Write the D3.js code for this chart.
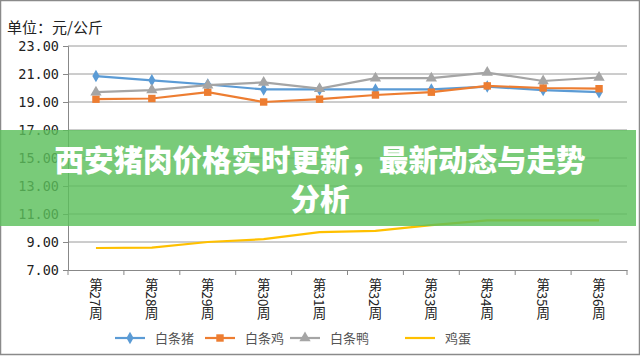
<!DOCTYPE html>
<html><head><meta charset="utf-8">
<script src="https://cdn.jsdelivr.net/npm/d3@7/dist/d3.min.js"></script>
<style>html,body{margin:0;padding:0;background:#fff;}svg{display:block;}</style>
</head><body><svg id="c" width="640" height="356"></svg>
<script>
const weeks = ["第27周","第28周","第29周","第30周","第31周","第32周","第33周","第34周","第35周","第36周"];
const pork  = [20.85,20.55,20.25,19.9,19.9,19.9,19.9,20.1,19.85,19.7];
const chicken = [19.2,19.25,19.7,19.0,19.2,19.5,19.7,20.15,20.0,19.95];
const duck = [19.7,19.85,20.2,20.4,19.95,20.7,20.7,21.1,20.5,20.75];
const egg = [8.57,8.6,9.0,9.2,9.7,9.8,10.2,10.55,10.55,10.55];
const seriesNames = ["白条猪","白条鸡","白条鸭","鸡蛋"];
const yTicks = [7,9,11,13,15,17,19,21,23];
const unitLabel = "单位：元/公斤";
const titleLines = ["西安猪肉价格实时更新，最新动态与走势","分析"];

const colors = ["#5b9bd5","#ed7d31","#a5a5a5","#ffc000"];
const symbols = [d3.symbolDiamond, d3.symbolSquare, d3.symbolTriangle, null];
const symSizes = [45, 55, 55, 0];
const series = [pork, chicken, duck, egg];

const svg = d3.select("#c");
const font = "'Noto Sans CJK SC', 'Noto Sans', sans-serif";
const L = 68, R = 627, T = 46, B = 270;

// frame
svg.append("rect").attr("x",0.5).attr("y",0.5).attr("width",639).attr("height",354)
  .attr("fill","#fff").attr("stroke","#8a8a8a").attr("stroke-width",1.5);

const x = d3.scaleBand().domain(weeks).range([L,R]);
const y = d3.scaleLinear().domain([7,23]).range([B,T]);

// gridlines
svg.append("g").selectAll("line").data(yTicks.slice(1)).join("line")
  .attr("x1",L).attr("x2",R).attr("y1",d=>y(d)).attr("y2",d=>y(d))
  .attr("stroke","#9a9a9a").attr("stroke-width",1);

// y axis
const ya = svg.append("g").attr("transform",`translate(${L},0)`)
  .call(d3.axisLeft(y).tickValues(yTicks).tickFormat(d3.format(".2f")).tickSize(5).tickPadding(4));
ya.select(".domain").attr("stroke","#888");
ya.selectAll(".tick line").attr("stroke","#888");
ya.selectAll("text").attr("font-family","'DejaVu Sans Mono', monospace").attr("font-size",13.5).attr("fill","#222");

// x axis
const xa = svg.append("g").attr("transform",`translate(0,${B})`)
  .call(d3.axisBottom(x).tickSize(0).tickPadding(0));
xa.select(".domain").attr("stroke","#888");
xa.selectAll(".tick text").remove();
// tick marks between categories
svg.append("g").selectAll("line").data(d3.range(weeks.length+1)).join("line")
  .attr("x1",i=>L + i*x.step()).attr("x2",i=>L + i*x.step())
  .attr("y1",B).attr("y2",B+5).attr("stroke","#888");
svg.append("g").selectAll("text").data(weeks).join("text")
  .attr("x",d=>x(d)+x.bandwidth()/2).attr("y",B+8)
  .attr("style","writing-mode: vertical-rl;")
  .attr("font-family",font).attr("font-size",13.5).attr("fill","#222")
  .attr("text-anchor","start")
  .text(d=>d);

// lines
const line = d3.line().x((d,i)=>x(weeks[i])+x.bandwidth()/2).y(d=>y(d));
series.forEach((s,k)=>{
  svg.append("path").datum(s).attr("d",line).attr("fill","none")
    .attr("stroke",colors[k]).attr("stroke-width",2.2);
  if(symbols[k]){
    svg.append("g").selectAll("path").data(s).join("path")
      .attr("transform",(d,i)=>`translate(${x(weeks[i])+x.bandwidth()/2},${y(d)})`)
      .attr("d",d3.symbol().type(symbols[k]).size(symSizes[k]))
      .attr("fill",colors[k]);
  }
});

// unit label
svg.append("text").attr("x",7).attr("y",33).attr("font-family",font).attr("font-size",15)
  .attr("fill","#222").text(unitLabel);

// legend
const legX = [115,205,290,405];
seriesNames.forEach((n,k)=>{
  const g = svg.append("g").attr("transform",`translate(${legX[k]},338)`);
  g.append("line").attr("x1",0).attr("x2",30).attr("stroke",colors[k]).attr("stroke-width",2.2);
  if(symbols[k]) g.append("path").attr("transform","translate(15,0)")
    .attr("d",d3.symbol().type(symbols[k]).size(symSizes[k])).attr("fill",colors[k]);
  g.append("text").attr("x",40).attr("y",5).attr("font-family",font).attr("font-size",13)
    .attr("fill","#555").text(n);
});

// green overlay banner
svg.append("rect").attr("x",0).attr("y",130).attr("width",636).attr("height",96)
  .attr("fill","#5cbf5c").attr("opacity",0.82);
svg.append("g").selectAll("text").data(titleLines).join("text")
  .attr("x",320).attr("y",(d,i)=>171+i*39).attr("text-anchor","middle")
  .attr("font-family",font).attr("font-weight","900").attr("font-size",29.5)
  .attr("fill","#fff").text(d=>d);
</script></body></html>
